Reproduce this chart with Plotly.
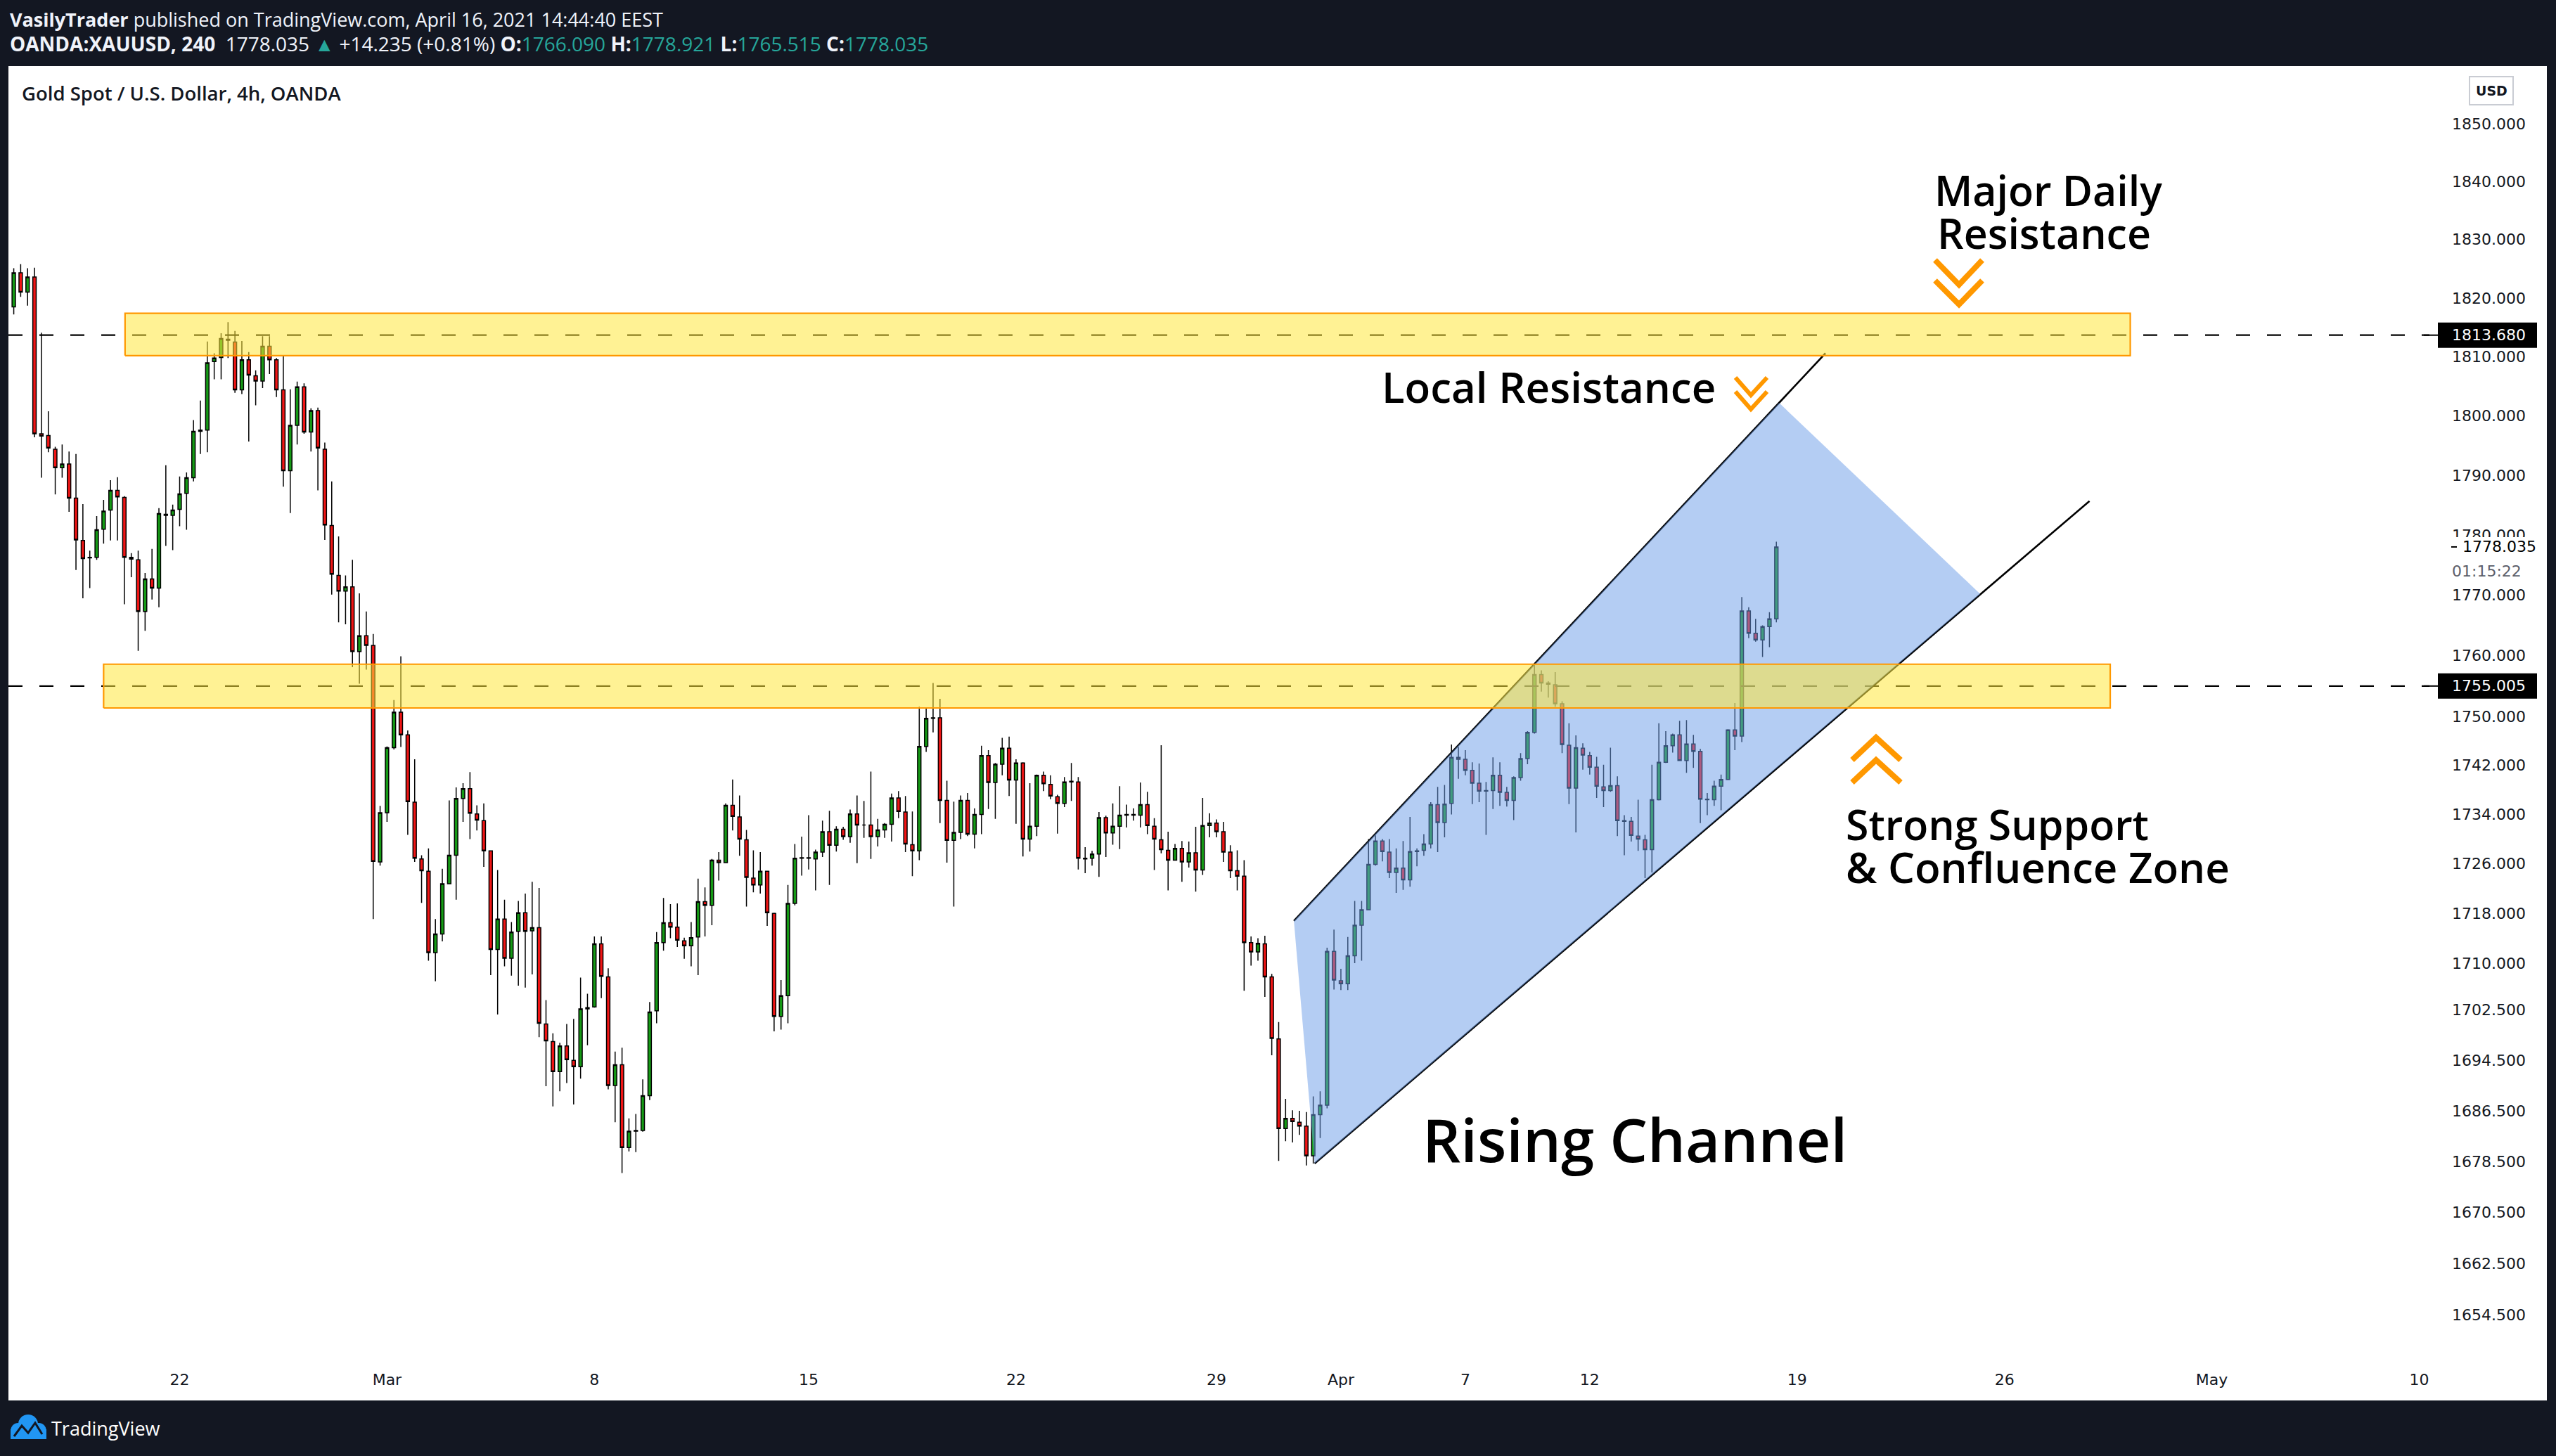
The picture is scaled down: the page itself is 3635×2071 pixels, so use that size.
import math
import plotly.graph_objects as go

# ---------------- data ----------------
OPEN = [1818.5,1824.3,1821.0,1823.6,1797.0,1796.7,1794.4,1791.3,1791.9,1786.2,1779.1,1776.2,1776.3,1781.0,1784.2,1787.5,1786.3,1776.3,1775.9,1767.3,
1772.7,1771.2,1783.5,1783.3,1784.3,1787.0,1789.6,1797.4,1797.6,1809.2,1809.9,1812.8,1812.5,1804.4,1809.5,1806.8,1805.9,1811.8,1809.5,1804.4,
1790.8,1798.4,1804.9,1797.3,1800.9,1794.4,1781.6,1773.3,1770.7,1771.4,1760.7,1763.3,1761.7,1726.3,1734.3,1744.9,1750.7,1747.0,1736.0,1726.8,
1724.8,1711.7,1714.7,1722.8,1727.4,1736.6,1738.2,1734.1,1733.0,1728.1,1712.2,1717.1,1710.8,1715.1,1718.1,1715.2,1715.7,1700.3,1697.5,1692.7,
1696.8,1694.5,1693.5,1702.7,1703.0,1713.1,1707.8,1690.5,1693.8,1680.7,1683.3,1683.4,1688.9,1702.4,1713.3,1716.5,1715.8,1713.6,1712.8,1714.2,
1719.9,1719.3,1726.6,1726.2,1735.5,1733.6,1729.9,1723.7,1722.6,1724.8,1718.0,1701.5,1704.8,1719.6,1726.9,1727.0,1726.8,1727.9,1731.2,1729.0,
1731.6,1730.4,1734.1,1732.3,1732.3,1730.4,1731.5,1732.4,1736.7,1734.4,1729.1,1728.1,1745.1,1749.7,1749.8,1736.3,1729.8,1731.1,1736.3,1730.8,
1734.0,1743.6,1739.2,1742.2,1744.8,1739.6,1742.4,1730.0,1732.1,1740.4,1738.9,1736.9,1735.8,1739.3,1739.3,1726.9,1726.9,1727.6,1733.5,1731.0,
1732.1,1733.9,1734.0,1733.9,1735.6,1732.1,1729.9,1728.2,1726.6,1728.5,1726.3,1727.8,1725.0,1732.2,1732.6,1731.2,1727.9,1724.9,1724.0,1713.3,
1711.8,1713.1,1707.8,1697.9,1683.7,1685.3,1684.7,1684.1,1679.4,1685.9,1687.4,1711.9,1707.2,1706.7,1711.2,1716.1,1718.6,1725.9,1729.7,1727.9,
1724.6,1725.3,1723.4,1728.0,1728.2,1729.2,1735.6,1732.7,1735.8,1743.3,1743.0,1741.2,1739.1,1737.8,1737.9,1740.4,1737.6,1736.3,1740.0,1743.1,
1747.4,1756.9,1755.5,1755.2,1752.1,1745.3,1738.3,1744.8,1743.6,1741.7,1738.5,1737.9,1738.7,1733.0,1732.9,1730.5,1729.9,1728.3,1736.4,1742.5,
1745.2,1747.0,1742.8,1745.5,1744.3,1736.5,1736.4,1738.6,1739.7,1747.8,1746.8,1767.4,1763.7,1762.6,1764.8,1766.09]

HIGH = [1825.1,1825.8,1825.1,1825.2,1814.1,1800.8,1794.8,1795.2,1794.0,1793.6,1785.2,1777.4,1783.2,1785.9,1789.2,1789.7,1786.5,1777.0,1777.4,1773.7,
1777.7,1784.5,1791.7,1785.1,1789.8,1790.5,1799.3,1802.6,1812.6,1810.6,1814.0,1815.9,1814.4,1812.7,1810.8,1807.7,1813.5,1813.5,1809.8,1810.3,
1804.5,1805.8,1805.5,1801.3,1801.4,1795.5,1789.0,1779.8,1773.3,1775.9,1770.3,1767.3,1763.6,1735.4,1745.1,1752.7,1759.9,1747.7,1743.0,1727.4,
1728.5,1717.1,1725.2,1736.3,1738.4,1739.1,1740.9,1735.5,1735.8,1728.2,1725.0,1720.2,1716.6,1720.0,1721.2,1723.1,1722.1,1704.1,1698.8,1697.3,
1700.3,1701.1,1707.7,1705.1,1714.3,1714.3,1709.2,1695.9,1696.5,1685.3,1686.0,1691.5,1703.8,1715.0,1720.5,1719.5,1719.6,1714.1,1716.6,1723.6,
1722.2,1726.8,1727.9,1735.8,1739.7,1737.1,1731.5,1728.2,1727.9,1724.9,1718.1,1707.3,1722.6,1729.2,1730.4,1733.9,1728.3,1733.0,1734.6,1732.1,
1732.0,1734.8,1737.1,1736.2,1741.0,1733.3,1732.6,1737.4,1737.8,1737.0,1734.5,1751.6,1751.5,1755.5,1752.9,1739.5,1736.1,1737.1,1737.5,1735.0,
1745.2,1744.5,1742.4,1746.5,1746.7,1743.0,1742.5,1739.1,1740.5,1741.0,1740.4,1737.2,1740.1,1742.4,1740.1,1728.7,1728.1,1734.4,1733.8,1735.8,
1738.6,1735.6,1735.0,1739.2,1737.7,1733.4,1745.3,1731.2,1729.2,1729.7,1729.6,1732.0,1736.7,1734.2,1733.2,1732.8,1729.0,1728.2,1726.6,1714.3,
1714.0,1714.4,1708.3,1700.6,1688.4,1686.6,1686.5,1686.3,1688.8,1689.6,1712.5,1715.4,1709.1,1714.2,1720.0,1720.0,1730.0,1730.6,1730.0,1730.0,
1728.5,1729.7,1733.6,1728.5,1730.8,1736.0,1738.5,1738.8,1745.4,1745.0,1744.5,1742.5,1742.3,1739.3,1743.3,1742.5,1738.5,1740.2,1744.0,1747.6,
1758.5,1757.6,1755.8,1757.3,1752.5,1748.9,1746.9,1745.6,1744.2,1743.4,1742.1,1744.9,1740.2,1733.9,1733.6,1736.4,1730.7,1742.1,1748.9,1747.6,
1747.2,1749.3,1749.4,1747.0,1744.7,1737.5,1739.5,1740.5,1747.9,1752.2,1769.7,1768.0,1766.1,1765.0,1767.2,1778.921]

LOW = [1817.2,1820.2,1818.7,1796.4,1789.6,1793.9,1786.8,1789.6,1783.9,1774.2,1769.5,1771.2,1775.9,1778.6,1779.1,1779.1,1768.5,1773.0,1760.8,1764.1,
1769.3,1768.0,1778.2,1777.5,1781.5,1780.9,1789.0,1793.6,1793.9,1806.2,1806.2,1809.8,1803.9,1803.7,1795.7,1801.8,1804.7,1807.1,1803.2,1788.1,
1783.7,1795.2,1797.0,1794.0,1787.5,1779.2,1770.1,1765.5,1765.2,1758.1,1755.4,1757.7,1717.1,1725.7,1732.8,1744.6,1745.0,1730.7,1726.3,1719.7,
1710.4,1707.1,1713.5,1722.7,1720.2,1732.8,1730.0,1731.4,1725.5,1708.1,1701.8,1709.5,1708.0,1706.4,1706.1,1708.2,1698.2,1690.4,1687.2,1689.6,
1690.9,1687.5,1691.6,1696.9,1702.9,1704.4,1689.9,1684.7,1676.7,1680.1,1680.0,1683.2,1688.2,1700.4,1712.0,1714.0,1712.6,1710.7,1709.5,1708.1,
1714.3,1716.1,1723.3,1726.1,1731.4,1727.3,1719.1,1721.4,1721.2,1716.0,1699.1,1699.4,1700.4,1719.3,1724.1,1725.1,1721.7,1727.1,1722.6,1728.0,
1729.9,1729.4,1726.1,1730.2,1726.8,1728.8,1730.2,1729.6,1733.4,1727.9,1724.0,1726.6,1744.2,1747.4,1732.6,1726.2,1719.1,1730.0,1730.5,1728.5,
1730.8,1734.9,1733.3,1740.4,1737.0,1732.5,1727.2,1728.0,1730.5,1737.8,1736.5,1730.9,1735.2,1736.2,1725.1,1724.5,1725.7,1723.9,1727.1,1729.1,
1728.4,1731.9,1733.0,1731.9,1730.8,1725.0,1727.7,1721.7,1726.5,1723.1,1725.4,1721.5,1724.2,1730.3,1730.3,1726.3,1723.7,1721.7,1705.6,1709.6,
1710.4,1704.6,1695.3,1678.6,1681.7,1681.5,1682.7,1677.9,1678.2,1682.2,1686.9,1705.8,1705.7,1705.7,1710.0,1710.4,1718.5,1725.7,1726.4,1723.7,
1721.3,1721.8,1722.3,1725.6,1727.3,1728.5,1727.9,1730.3,1734.0,1739.8,1740.4,1735.7,1736.0,1730.7,1734.9,1735.4,1735.3,1733.1,1739.5,1742.2,
1747.2,1754.1,1753.1,1751.6,1744.0,1735.7,1731.1,1741.3,1740.5,1736.7,1735.2,1737.7,1730.5,1727.4,1729.6,1728.1,1723.7,1724.6,1736.3,1742.4,
1744.1,1742.7,1740.8,1741.6,1732.6,1733.9,1735.4,1734.7,1739.6,1744.5,1745.8,1762.9,1762.3,1759.8,1761.4,1765.515]

CLOSE = [1824.3,1821.0,1823.6,1797.0,1796.6,1794.6,1791.3,1791.9,1786.2,1779.2,1776.1,1776.3,1780.9,1784.0,1787.5,1786.4,1776.3,1776.0,1767.3,1772.7,
1771.2,1783.6,1783.3,1784.2,1786.9,1789.6,1797.4,1797.6,1809.0,1809.8,1813.1,1813.0,1804.4,1809.5,1806.9,1805.9,1811.8,1809.5,1804.4,1790.8,
1798.4,1804.9,1797.3,1800.9,1794.6,1781.7,1773.5,1770.7,1771.4,1760.7,1763.3,1761.7,1726.4,1734.3,1744.9,1750.7,1747.0,1736.1,1726.9,1724.9,
1711.7,1714.7,1722.8,1727.4,1736.6,1738.2,1734.2,1733.1,1728.1,1712.2,1717.1,1710.8,1715.0,1718.1,1715.1,1715.7,1700.4,1697.6,1692.7,1696.8,
1694.6,1693.5,1702.7,1702.9,1713.1,1707.9,1690.5,1693.8,1680.7,1683.3,1683.4,1688.9,1702.2,1713.3,1716.5,1715.8,1713.7,1712.8,1714.1,1719.9,
1719.3,1726.6,1726.2,1735.5,1733.7,1730.0,1723.8,1722.6,1724.8,1718.1,1701.5,1704.8,1719.6,1726.9,1727.0,1726.9,1727.9,1731.2,1729.0,1731.6,
1730.4,1734.1,1732.3,1732.3,1730.4,1731.5,1732.4,1736.7,1734.5,1729.2,1728.1,1745.1,1749.7,1749.8,1736.3,1729.8,1731.1,1736.3,1730.8,1734.0,
1743.6,1739.2,1742.2,1744.8,1739.6,1742.4,1730.0,1732.1,1740.4,1739.0,1737.0,1735.8,1739.3,1739.4,1726.9,1726.8,1727.6,1733.5,1731.0,1732.1,
1733.9,1734.0,1733.9,1735.6,1732.2,1730.0,1728.3,1726.6,1728.5,1726.3,1727.8,1725.0,1732.2,1732.6,1731.2,1727.9,1724.9,1724.0,1713.3,1711.8,
1713.2,1707.8,1698.0,1683.7,1685.3,1684.8,1684.1,1679.4,1685.9,1687.4,1711.9,1707.3,1706.7,1711.2,1716.1,1718.6,1725.9,1729.7,1728.0,1724.6,
1725.3,1723.4,1728.0,1728.1,1729.2,1735.6,1732.7,1735.7,1743.3,1743.0,1741.2,1739.1,1737.8,1737.9,1740.4,1737.6,1736.3,1740.0,1743.1,1747.4,
1756.9,1755.5,1755.3,1752.1,1745.4,1738.3,1744.9,1743.7,1741.7,1738.6,1737.9,1738.7,1733.0,1732.9,1730.6,1730.0,1728.3,1736.4,1742.5,1745.2,
1747.0,1742.8,1745.5,1744.3,1736.5,1736.4,1738.6,1739.7,1747.8,1746.8,1767.4,1763.7,1762.6,1764.8,1766.1,1778.035]

X_TICK_POS = [24, 54, 84, 115, 145, 174, 192, 210, 228, 258, 288, 318, 348]
X_TICK_TEXT = ["22", "Mar", "8", "15", "22", "29", "Apr", "7", "12", "19", "26", "May", "10"]
Y_TICKS = [1850, 1840, 1830, 1820, 1810, 1800, 1790, 1780, 1770, 1760, 1750, 1742, 1734, 1726,
           1718, 1710, 1702.5, 1694.5, 1686.5, 1678.5, 1670.5, 1662.5, 1654.5]

MAJOR_RES = 1813.680
SUPPORT = 1755.005
LAST = 1778.035

ZONE_TOP_X = [16.1, 306.2]
ZONE_TOP_Y = [1810.2, 1817.4]
ZONE_BOT_X = [13.0, 303.3]
ZONE_BOT_Y = [1751.4, 1758.6]
CH_UP_X = [185.2, 262.1]
CH_UP_Y = [1716.8, 1810.6]
CH_LO_X = [188.2, 300.3]
CH_LO_Y = [1678.2, 1785.7]
CH_FILL_X = [185.2, 255.4, 284.5, 188.2]
CH_FILL_Y = [1716.8, 1802.2, 1770.2, 1678.2]

X_MIN, X_MAX = -0.77, 349.48
P_MIN, P_MAX = 1648.6, 1860.0

# ---------------- layout geometry (pixels) ----------------
W, H = 3635, 2071
L, T, R, B = 12, 94, 3455, 1925
PW, PH = R - L, B - T
LMIN, LMAX = math.log10(P_MIN), math.log10(P_MAX)


def pxx(X):
    return (X - L) / PW


def pxy(Y):
    return 1 - (Y - T) / PH


def price_y(p):
    return T + (LMAX - math.log10(p)) / (LMAX - LMIN) * PH


DARK = "#131722"
TEAL = "#26a69a"
ORANGE = "#FF9800"

fig = go.Figure()

fig.add_trace(go.Candlestick(
    x=list(range(len(OPEN))), open=OPEN, high=HIGH, low=LOW, close=CLOSE,
    increasing=dict(line=dict(color="black", width=1.5), fillcolor="#159a15"),
    decreasing=dict(line=dict(color="black", width=1.5), fillcolor="#f01515"),
    whiskerwidth=0, hoverinfo="skip", showlegend=False,
))

for lvl in (MAJOR_RES, SUPPORT):
    fig.add_trace(go.Scatter(x=[X_MIN, X_MAX], y=[lvl, lvl], mode="lines",
                             line=dict(color="black", width=2.2, dash="20px,24px"),
                             hoverinfo="skip", showlegend=False))

for xs, ys in ((CH_UP_X, CH_UP_Y), (CH_LO_X, CH_LO_Y)):
    fig.add_trace(go.Scatter(x=xs, y=ys, mode="lines", line=dict(color="black", width=2.6),
                             hoverinfo="skip", showlegend=False))

fig.add_trace(go.Scatter(x=CH_FILL_X + CH_FILL_X[:1], y=CH_FILL_Y + CH_FILL_Y[:1], mode="lines",
                         fill="toself", fillcolor="rgba(108,157,231,0.51)",
                         line=dict(width=0, color="rgba(0,0,0,0)"), hoverinfo="skip", showlegend=False))

for zx, zy in ((ZONE_TOP_X, ZONE_TOP_Y), (ZONE_BOT_X, ZONE_BOT_Y)):
    fig.add_trace(go.Scatter(x=[zx[0], zx[1], zx[1], zx[0], zx[0]],
                             y=[zy[0], zy[0], zy[1], zy[1], zy[0]], mode="lines",
                             fill="toself", fillcolor="rgba(255,232,60,0.55)",
                             line=dict(color=ORANGE, width=2.2), hoverinfo="skip", showlegend=False))

shapes = []


def rect(x0, y0, x1, y1, fill, layer="below", lc=None, lw=0):
    shapes.append(dict(type="rect", xref="paper", yref="paper",
                       x0=pxx(x0), x1=pxx(x1), y0=pxy(y1), y1=pxy(y0),
                       fillcolor=fill, layer=layer,
                       line=dict(width=lw, color=lc or "rgba(0,0,0,0)")))


def seg(pts, color, width, layer="above"):
    d = "M " + " L ".join(f"{pxx(x):.6f} {pxy(y):.6f}" for x, y in pts)
    shapes.append(dict(type="path", xref="paper", yref="paper", path=d,
                       line=dict(color=color, width=width), layer=layer))


# dark frame
rect(0, 0, W, T, DARK)
rect(0, 1992, W, H, DARK)
rect(0, 0, L, H, DARK)
rect(3622, 0, W, H, DARK)

ann = []


def text(x, y, s, size, color="black", family="Open Sans", weight=None, xanchor="left"):
    f = dict(family=family, size=size, color=color)
    if weight:
        f["weight"] = weight
    ann.append(dict(x=pxx(x), y=pxy(y), xref="paper", yref="paper", text=s, showarrow=False,
                    xanchor=xanchor, yanchor="middle", font=f, borderpad=0))


# price-axis labels for the horizontal lines
for lvl in (MAJOR_RES, SUPPORT):
    yc = price_y(lvl)
    rect(3467, yc - 18, 3608, yc + 18, "black", layer="above")
    seg([(3447, yc), (3467, yc)], "black", 2)
    text(3486, yc, f"{lvl:.3f}", 22, "white", "DejaVu Sans")

yl = price_y(LAST)
rect(3462, yl - 14, 3615, yl + 52, "white", layer="above")
seg([(3486, yl), (3494, yl)], "black", 2)
text(3501, yl, f"{LAST:.3f}", 22, "black", "DejaVu Sans")
text(3486, yl + 35, "01:15:22", 22, "#5d606b", "DejaVu Sans")

# USD box
rect(3512, 109, 3574, 149, "white", layer="above", lc="#c9ccd3", lw=2)
text(3543, 129, "<b>USD</b>", 19, "#131722", "DejaVu Sans", xanchor="center")

# chevrons
seg([(2752, 370), (2786, 405), (2819, 370)], ORANGE, 8)
seg([(2752, 399), (2786, 433), (2819, 399)], ORANGE, 8)
seg([(2468, 537), (2490, 562), (2513, 537)], ORANGE, 6)
seg([(2468, 557), (2490, 582), (2513, 557)], ORANGE, 6)
seg([(2634, 1081), (2668, 1049), (2703, 1081)], ORANGE, 8)
seg([(2634, 1113), (2668, 1081), (2703, 1113)], ORANGE, 8)

# TradingView logo
for cx, cy, r in ((40, 2026, 14), (26, 2035, 11), (55, 2035, 11)):
    shapes.append(dict(type="circle", xref="paper", yref="paper", x0=pxx(cx - r), x1=pxx(cx + r),
                       y0=pxy(cy + r), y1=pxy(cy - r), fillcolor="#2196F3",
                       line=dict(width=0), layer="above"))
rect(15, 2033, 66, 2047, "#2196F3", layer="above")
seg([(20, 2043), (31, 2028), (40, 2038), (50, 2024), (60, 2040)], "#131722", 3)

# texts
text(13, 27, "<b>VasilyTrader</b> published on TradingView.com, April 16, 2021 14:44:40 EEST", 27, "#f0f3fa")
text(13, 62, "<b>OANDA:XAUUSD, 240</b>  1778.035 <span style='color:%s'>▲</span> +14.235 (+0.81%%) "
             "<b>O:</b><span style='color:%s'>1766.090</span> <b>H:</b><span style='color:%s'>1778.921</span> "
             "<b>L:</b><span style='color:%s'>1765.515</span> <b>C:</b><span style='color:%s'>1778.035</span>"
     % (TEAL, TEAL, TEAL, TEAL, TEAL), 28, "#f0f3fa")
text(30, 132, "Gold Spot / U.S. Dollar, 4h, OANDA", 27.5, "#131722", weight=600)

text(2750, 270, "Major Daily", 59, "black", weight=600)
text(2754, 331, "Resistance", 59, "black", weight=600)
text(1964, 550, "Local Resistance", 60, "black", weight=600)
text(2624, 1172, "Strong Support", 59, "black", weight=600)
text(2624, 1233, "&amp; Confluence Zone", 60, "black", weight=600)
text(2022, 1620, "Rising Channel", 85, "black", weight=600)
text(72, 2032, "TradingView", 27, "white")

fig.update_layout(
    width=W, height=H, autosize=False,
    paper_bgcolor="white", plot_bgcolor="white",
    margin=dict(l=L, r=W - R, t=T, b=H - B, pad=0),
    showlegend=False,
    font=dict(family="DejaVu Sans", size=22, color="#131722"),
    xaxis=dict(range=[X_MIN, X_MAX], tickmode="array", tickvals=X_TICK_POS, ticktext=X_TICK_TEXT,
               showgrid=False, zeroline=False, showline=False, ticks="",
               tickfont=dict(family="DejaVu Sans", size=22, color="#131722"),
               ticklabelstandoff=22, rangeslider=dict(visible=False), fixedrange=True),
    yaxis=dict(type="log", range=[LMIN, LMAX], side="right", tickmode="array",
               tickvals=Y_TICKS, ticktext=[f"{v:.3f}" for v in Y_TICKS],
               showgrid=False, zeroline=False, showline=False, ticks="",
               tickfont=dict(family="DejaVu Sans", size=22, color="#131722"),
               ticklabelstandoff=31, fixedrange=True),
    shapes=shapes, annotations=ann,
)

fig.write_html("out.html", config={"displayModeBar": False},
               post_script="document.body.style.margin='0px';document.body.style.overflow='hidden';")
